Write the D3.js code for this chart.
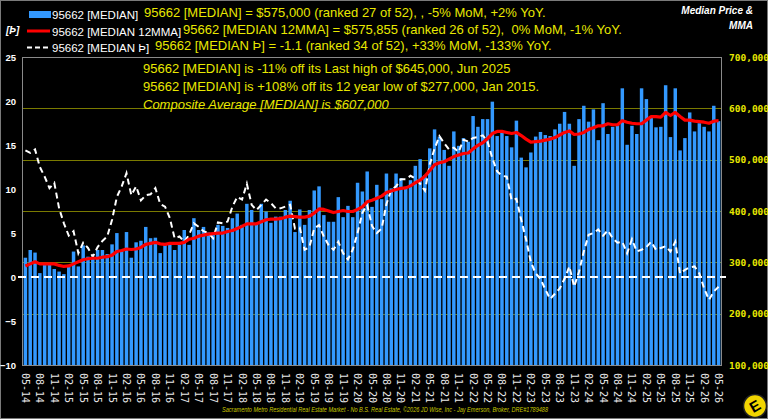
<!DOCTYPE html>
<html>
<head>
<meta charset="utf-8">
<script src="https://cdn.jsdelivr.net/npm/d3@7"></script>
<style>
  html, body { margin: 0; padding: 0; background: #000; }
  svg { display: block; }
  svg text { white-space: pre; }
</style>
</head>
<body>
<div id="container"></div>
<script>
const width = 768;
const height = 419;

// monthly, May 2014 .. May 2026
const startMonth = new Date(2014, 4, 1);
const endMonth = new Date(2026, 5, 1);

// median price, $ thousands
const median = [
  309, 324, 319, 279, 297, 296, 287, 282, 277, 292,
  321, 292, 333, 311, 311, 324, 324, 316, 335, 357,
  324, 359, 309, 339, 342, 369, 347, 348, 318, 334,
  334, 324, 334, 363, 334, 386, 363, 369, 358, 355,
  373, 371, 367, 386, 395, 373, 414, 402, 376, 414,
  399, 377, 389, 389, 402, 420, 359, 403, 373, 402,
  440, 448, 392, 379, 379, 427, 388, 410, 388, 455,
  438, 477, 408, 451, 423, 473, 444, 473, 464, 447,
  460, 488, 501, 470, 522, 559, 545, 519, 488, 555,
  527, 542, 535, 585, 564, 579, 579, 613, 546, 553,
  546, 524, 576, 504, 485, 514, 545, 554, 548, 546,
  559, 570, 593, 570, 488, 579, 605, 574, 598, 538,
  610, 550, 564, 568, 639, 529, 566, 550, 639, 618,
  581, 563, 564, 645, 544, 639, 518, 542, 592, 555,
  571, 564, 555, 605, 575
];

// 12 month moving average, $ thousands
const mma12 = [
  293, 297, 301, 297, 297, 297, 297, 294, 292, 293,
  297, 301, 305, 307, 308, 308, 310, 311, 314, 321,
  323, 326, 325, 326, 329, 335, 337, 339, 336, 335,
  337, 337, 337, 339, 345, 347, 351, 353, 355, 356,
  357, 357, 360, 362, 366, 370, 375, 375, 375, 379,
  383, 384, 384, 385, 388, 390, 389, 388, 388, 390,
  396, 404, 403, 400, 397, 399, 401, 399, 399, 403,
  408, 418, 421, 425, 429, 436, 439, 442, 444, 445,
  449, 455, 460, 468, 479, 490, 494, 496, 501, 506,
  509, 512, 513, 521, 528, 533, 541, 551, 555, 555,
  553, 551, 553, 547, 540, 534, 535, 536, 538, 540,
  543, 548, 553, 556, 549, 550, 553, 559, 562, 566,
  566, 570, 568, 568, 576, 573, 571, 570, 570, 577,
  584, 584, 583, 592, 586, 592, 584, 577, 577, 575,
  574, 573, 571, 575, 576
];

// [MEDIAN Þ]
const thorn = [
  14.4, 14.1, 14.5, 12.5, 11.4, 10.1, 10.7, 7.8, 6.1, 4.7,
  5.2, 2.7, 3.9, 3.3, 2.3, 3.4, 4.1, 4.6, 6.5, 9.1,
  10.3, 11.8, 9.3, 10.3, 8.7, 9.3, 9.4, 10.1, 8.3, 8.0,
  6.7, 4.4, 4.6, 4.0, 4.8, 6.1, 5.7, 5.2, 5.0, 4.4,
  6.2, 6.1, 6.3, 8.0, 9.1, 8.8, 10.6, 8.2, 7.6, 8.2,
  8.8, 8.4, 7.8, 7.8, 8.0, 8.2, 5.5, 5.6, 3.1, 3.4,
  5.5, 5.9, 4.6, 3.6, 3.1, 4.0, 2.7, 2.0, 3.1, 5.0,
  7.3, 8.2, 5.8, 5.0, 5.5, 8.3, 9.9, 10.3, 11.1, 11.1,
  11.5, 11.2, 10.6, 9.8, 12.8, 14.6, 16.0, 15.2, 14.5, 14.7,
  14.2, 15.6, 15.4, 15.8, 15.9, 16.1, 15.4, 13.5, 12.0, 11.5,
  11.4, 8.75, 8.9, 6.5, 4.3, 1.7, 0.4, -0.2, -1.4, -2.5,
  -1.9, -1.3, -0.2, 1.2, -1.1, 0.6, 2.9, 4.8, 5.0, 5.4,
  4.7, 5.3, 4.4, 3.9, 4.0, 2.7, 4.3, 2.9, 3.1, 3.4,
  4.0, 3.1, 3.3, 3.5, 2.9, 4.0, 0.4, 0.8, 1.1, 1.2,
  0.4, -1.3, -2.6, -1.65, -1.1
];

const leftTicks = [-10, -5, 0, 5, 10, 15, 20, 25];
const rightTicks = [100, 200, 300, 400, 500, 600, 700];
const gridTicks = [200, 300, 400, 500, 600];

const legendNames = ["95662 [MEDIAN]", "95662 [MEDIAN 12MMA]", "95662 [MEDIAN \u00DE]"];
const headLines = [
  "95662 [MEDIAN] = $575,000 (ranked 27 of 52), , -5% MoM, +2% YoY.",
  "95662 [MEDIAN 12MMA] = $575,855 (ranked 26 of 52),  0% MoM, -1% YoY.",
  "95662 [MEDIAN \u00DE] = -1.1 (ranked 34 of 52), +33% MoM, -133% YoY."
];
const noteLines = [
  "95662 [MEDIAN] is -11% off its Last high of $645,000, Jun 2025",
  "95662 [MEDIAN] is +108% off its 12 year low of $277,000, Jan 2015.",
  "Composite Average [MEDIAN] is $607,000"
];
const footer = "Sacramento Metro Residential Real Estate Market - No B.S. Real Estate, \u00A92026 JD Wise, Inc - Jay Emerson, Broker, DRE#1789488";

const months = d3.timeMonth.range(startMonth, endMonth);
const fmtMonth = d3.timeFormat("%m-%y");
const idx = d3.range(months.length);

const plot = {left: 23, right: 721, top: 57, bottom: 365};
const yellow = "#e8e800";
const sans = "Arial, 'Liberation Sans', sans-serif";
const mono = "'DejaVu Sans Mono', monospace";

const x = d3.scaleBand()
    .domain(idx)
    .range([plot.left, plot.right])
    .paddingInner(0.28)
    .paddingOuter(0.14);

const yR = d3.scaleLinear().domain([100, 700]).range([plot.bottom, plot.top]);
const yL = d3.scaleLinear().domain([-10, 25]).range([plot.bottom, plot.top]);

const svg = d3.select("div#container")
    .append("svg")
    .attr("width", width)
    .attr("height", height)
    .style("background", "#000");

// outer border
svg.append("rect")
    .attr("x", 0.5).attr("y", 0.5)
    .attr("width", width - 1).attr("height", height - 1)
    .attr("fill", "none").attr("stroke", "#7a7a7a");

// grid
svg.append("g")
    .selectAll("line")
    .data(gridTicks)
    .join("line")
    .attr("x1", plot.left).attr("x2", plot.right)
    .attr("y1", d => Math.round(yR(d)) + 0.5)
    .attr("y2", d => Math.round(yR(d)) + 0.5)
    .attr("stroke", "#7a7a00")
    .attr("stroke-width", 1);

// bars
svg.append("g")
    .selectAll("rect")
    .data(idx)
    .join("rect")
    .attr("x", i => x(i))
    .attr("width", x.bandwidth())
    .attr("y", i => yR(median[i]))
    .attr("height", i => yR(100) - yR(median[i]))
    .attr("fill", "#3399ff");

// plot frame
svg.append("rect")
    .attr("x", plot.left - 0.5).attr("y", plot.top + 0.5)
    .attr("width", plot.right - plot.left + 1)
    .attr("height", plot.bottom - plot.top)
    .attr("fill", "none").attr("stroke", "#8a8a8a");

// zero line
svg.append("line")
    .attr("x1", 18).attr("x2", 726)
    .attr("y1", yL(0)).attr("y2", yL(0))
    .attr("stroke", "#fff")
    .attr("stroke-width", 2)
    .attr("stroke-dasharray", "8,5");

const cx = i => x(i) + x.bandwidth() / 2;

// thorn line
svg.append("path")
    .datum(idx)
    .attr("fill", "none")
    .attr("stroke", "#fff")
    .attr("stroke-width", 2)
    .attr("stroke-dasharray", "6,4")
    .attr("d", d3.line().x(cx).y(i => yL(thorn[i])));

// 12MMA line
svg.append("path")
    .datum(idx)
    .attr("fill", "none")
    .attr("stroke", "#ff0000")
    .attr("stroke-width", 3.2)
    .attr("stroke-linejoin", "round")
    .attr("d", d3.line().x(cx).y(i => yR(mma12[i])));

// left axis
const gl = svg.append("g")
    .attr("transform", `translate(${plot.left},0)`)
    .call(d3.axisLeft(yL).tickValues(leftTicks).tickSize(0).tickPadding(7));
gl.select(".domain").remove();
gl.selectAll("text")
    .attr("fill", "#fff")
    .style("font", `bold 9.5px ${sans}`);

// right axis
const gr = svg.append("g")
    .attr("transform", `translate(${plot.right},0)`)
    .call(d3.axisRight(yR).tickValues(rightTicks).tickSize(0).tickPadding(8)
        .tickFormat(d => d3.format(",")(d * 1000)));
gr.select(".domain").remove();
gr.selectAll("text")
    .attr("fill", yellow)
    .style("font", `bold 9.5px ${mono}`);

// x axis
const gx = svg.append("g")
    .attr("transform", `translate(0,${plot.bottom})`)
    .call(d3.axisBottom(x).tickValues(idx.filter(i => i % 3 === 0))
        .tickFormat(i => fmtMonth(months[i])).tickSize(0));
gx.select(".domain").remove();
gx.selectAll("text")
    .attr("transform", "rotate(90)")
    .attr("x", 8)
    .attr("y", 0)
    .attr("dy", "0.35em")
    .attr("text-anchor", "start")
    .attr("fill", "#e8e8e8")
    .style("font", `10px ${mono}`);

// legend
const leg = svg.append("g").style("font", `11.5px ${sans}`);
leg.append("rect").attr("x", 29).attr("y", 11).attr("width", 22).attr("height", 7).attr("fill", "#3399ff");
leg.append("line").attr("x1", 27).attr("x2", 50).attr("y1", 31).attr("y2", 31)
    .attr("stroke", "#ff0000").attr("stroke-width", 3);
leg.append("line").attr("x1", 27).attr("x2", 50).attr("y1", 47.5).attr("y2", 47.5)
    .attr("stroke", "#fff").attr("stroke-width", 2).attr("stroke-dasharray", "5,3");
leg.selectAll("text.name")
    .data(legendNames)
    .join("text")
    .attr("class", "name")
    .attr("x", 52)
    .attr("y", (d, i) => 19 + i * 16.5)
    .attr("fill", "#fff")
    .text(d => d);
leg.append("text")
    .attr("x", 6).attr("y", 34)
    .attr("fill", "#fff")
    .style("font", `italic bold 10px ${sans}`)
    .text("[\u00DE]");

// header lines
const headX = [144, 183, 155];
svg.append("g")
    .selectAll("text")
    .data(headLines)
    .join("text")
    .attr("x", (d, i) => headX[i])
    .attr("y", (d, i) => 17 + i * 16.5)
    .attr("fill", yellow)
    .style("font", `13px ${sans}`)
    .text(d => d);

// notes inside plot
svg.append("g")
    .selectAll("text")
    .data(noteLines)
    .join("text")
    .attr("x", 143)
    .attr("y", (d, i) => 73 + i * 18)
    .attr("fill", yellow)
    .style("font", (d, i) => `${i === 2 ? "italic " : ""}13px ${sans}`)
    .text(d => d);

// title top right
svg.append("g")
    .selectAll("text")
    .data(["Median Price &", "MMA"])
    .join("text")
    .attr("x", 753)
    .attr("y", (d, i) => 14 + i * 15)
    .attr("text-anchor", "end")
    .attr("fill", "#fff")
    .style("font", `italic bold 10px ${sans}`)
    .text(d => d);

// footer
svg.append("text")
    .attr("x", 222).attr("y", 412)
    .attr("fill", "#c8c800")
    .style("font", `italic 6.4px ${sans}`)
    .attr("textLength", 326)
    .attr("lengthAdjust", "spacingAndGlyphs")
    .text(footer);

// logo
const logo = svg.append("g").attr("transform", "translate(755,406)");
logo.append("circle").attr("r", 11.5).attr("fill", "#f2d500").attr("stroke", "#222").attr("stroke-width", 1.5);
logo.append("text")
    .attr("transform", "rotate(-30)")
    .attr("text-anchor", "middle")
    .attr("dy", "0.36em")
    .attr("fill", "#000")
    .style("font", `bold 15px ${sans}`)
    .text("E");
</script>
</body>
</html>
